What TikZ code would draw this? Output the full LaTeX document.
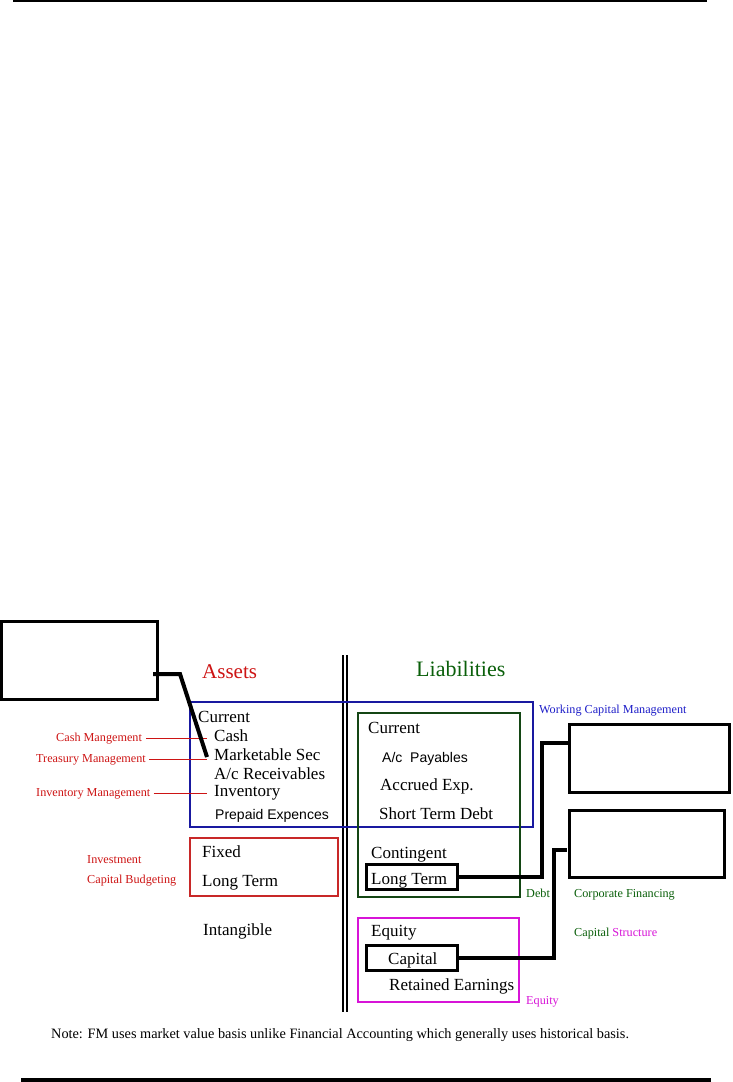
\documentclass[tikz,border=0pt]{standalone}
\usepackage{fontspec}
\usetikzlibrary{calc}
\setmainfont{Liberation Serif}
\newfontfamily\arialf{Liberation Sans}
\definecolor{lblred}{RGB}{205,20,20}
\definecolor{boxred}{RGB}{200,40,40}
\definecolor{boxblue}{RGB}{25,25,160}
\definecolor{txtblue}{RGB}{30,30,200}
\definecolor{boxgreen}{RGB}{20,70,20}
\definecolor{txtgreen}{RGB}{10,95,10}
\definecolor{mag}{RGB}{215,20,215}
\tikzset{
  txt/.style={anchor=west, inner sep=0pt, text height=0.68em, text depth=0.18em, yshift=-3.5pt},
  item/.style={txt, font=\fontsize{17}{19}\selectfont},
  sitem/.style={txt, font=\arialf\fontsize{14}{16}\selectfont},
  small/.style={txt, font=\fontsize{12.2}{14}\selectfont},
  head/.style={txt, font=\fontsize{21}{24}\selectfont},
  bigbox/.style={draw=black, line width=3pt, inner sep=0pt},
  conn/.style={draw=black, line width=4pt},
  redline/.style={draw=lblred, line width=1.4pt},
  frame/.style={line width=1.2pt}
}
\begin{document}
\begin{tikzpicture}[x=1pt,y=-1pt]
\useasboundingbox (0,0) rectangle (733,1082);
% page rules
\draw[line width=2.5pt] (13,1.2) -- (707,1.2);
\draw[line width=4pt] (21,1079.5) -- (711,1079.5);

% headings
\node[head, text=lblred] (assets) at (202,672) {Assets};
\node[head, text=txtgreen, font=\fontsize{22}{25}\selectfont] (liab) at (416,670) {Liabilities};

% double vertical line
\draw[line width=1.2pt] (343,655) -- (343,1012);
\draw[line width=1.2pt] (347,655) -- (347,1012);

% coloured frames
\draw[frame, draw=boxblue] (190,702) rectangle (533,827);
\draw[frame, draw=boxgreen] (358,713) rectangle (520,897);
\draw[frame, draw=boxred] (190,838) rectangle (338,896);
\draw[frame, draw=mag] (358,918) rectangle (519,1002);

% empty black boxes
\node[bigbox, minimum width=156pt, minimum height=78pt] (tl) at (79.5,660.5) {};
\node[bigbox, minimum width=160pt, minimum height=68pt] (r1) at (649.5,758.5) {};
\node[bigbox, minimum width=155pt, minimum height=67pt] (r2) at (647,844) {};
\node[bigbox, minimum width=91pt, minimum height=25pt] (ltbox) at (412,877) {};
\node[bigbox, minimum width=91pt, minimum height=25pt] (capbox) at (412,958) {};

% asset items
\node[item] (curA) at (198,716) {Current};
\node[item] (cash) at (214,735) {Cash};
\node[item] (mkt) at (214,754) {Marketable Sec};
\node[item] (rec) at (214,773) {A/c Receivables};
\node[item] (inv) at (214,790) {Inventory};
\node[sitem] (prep) at (215,813) {Prepaid Expences};
\node[item] (fixed) at (202,851) {Fixed};
\node[item] (ltA) at (202,880) {Long Term};
\node[item] (intang) at (203,929) {Intangible};

% liability items
\node[item] (curL) at (368,727) {Current};
\node[sitem] (pay) at (382,756) {A/c\ \ Payables};
\node[item] (accr) at (380,784) {Accrued Exp.};
\node[item] (std) at (379,813) {Short Term Debt};
\node[item] (cont) at (371,852) {Contingent};
\node[item] (ltL) at (371,878) {Long Term};
\node[item] (eq) at (371,930) {Equity};
\node[item] (cap) at (388,958) {Capital};
\node[item] (ret) at (389,984) {Retained Earnings};

% red labels
\node[small, text=lblred] (cashm) at (56,735) {Cash Mangement};
\node[small, text=lblred] (treas) at (36,756) {Treasury Management};
\node[small, text=lblred] (invm) at (36,790) {Inventory Management};
\node[small, text=lblred] (invest) at (87,857) {Investment};
\node[small, text=lblred] (capbud) at (87,877) {Capital Budgeting};

\draw[redline] ($(cashm.east)+(4,0)$) -- ($(cash.west |- cashm.east)+(-7,0)$);
\draw[redline] ($(treas.east)+(3,0)$) -- ($(mkt.west |- treas.east)+(-7,0)$);
\draw[redline] ($(invm.east)+(3,0)$) -- ($(inv.west |- invm.east)+(-7,0)$);

% right labels
\node[small, text=txtblue] (wcm) at (539,707) {Working Capital Management};
\node[small, text=txtgreen] (debt) at (526,891) {Debt};
\node[small, text=txtgreen] (corp) at (574,891) {Corporate Financing};
\node[small] (cstr) at (574,930) {\textcolor{txtgreen}{Capital} \textcolor{mag}{Structure}};
\node[small, text=mag] (eqlbl) at (526,998) {Equity};

% black connectors
\coordinate (tlport) at (153,674);
\coordinate (bend1) at (180,674);
\coordinate (mktport) at (207,757);
\draw[conn, line join=miter] (tlport) -- (bend1) -- (mktport);

\coordinate (mid1) at (542,800);
\coordinate (r1port) at (568,743);
\draw[conn] (ltbox.east) -| (mid1) |- (r1port);

\coordinate (mid2) at (554,900);
\coordinate (r2port) at (567,850);
\draw[conn] (capbox.east) -| (mid2) |- (r2port);

% note
\node[txt, font=\fontsize{14.3}{16}\selectfont] (note) at (51,1032) {Note: FM uses market value basis unlike Financial Accounting which generally uses historical basis.};
\end{tikzpicture}
\end{document}
